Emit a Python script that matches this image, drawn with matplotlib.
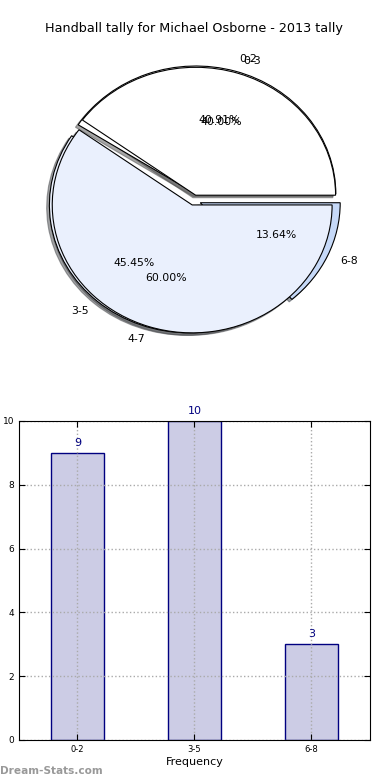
import matplotlib
matplotlib.use('Agg')
from matplotlib import pyplot as plt

# tally data
title = 'Handball tally for Michael Osborne - 2013 tally'
bins_a = ['0-2', '3-5', '6-8']
counts_a = [9, 10, 3]
bins_b = ['0-3', '4-7']
share_b = [40.0, 60.0]

colors_a = ['white', '#eaf0fd', '#c6d9f8']
colors_b = ['white', '#eaf0fd']

fig = plt.figure(figsize=(3.9, 7.8), dpi=100)

# --- pie part (two pies drawn on top of each other) ---
ax = fig.add_axes([0.0487, 0.5385, 0.897, 0.410])
wp = {'edgecolor': 'black', 'linewidth': 0.8}
tp = {'fontsize': 7.8}
shadow = {'ox': -0.014, 'oy': -0.014}
ax.pie(counts_a, labels=bins_a, explode=[0.05] * len(counts_a), colors=colors_a,
       autopct='%1.2f%%', shadow=shadow, wedgeprops=wp, textprops=tp)
ax.pie(share_b, labels=bins_b, explode=[0.04] * len(share_b), colors=colors_b,
       autopct='%1.2f%%', shadow=shadow, wedgeprops=wp, textprops=tp)
ax.set_aspect('auto')
ax.set_xlim(-1.25, 1.25)
ax.set_ylim(-1.25, 1.25)
ax.set_title(title, fontsize=9.2)

# --- bar part ---
ax2 = fig.add_axes([0.0487, 0.0513, 0.9, 0.409])
x = list(range(len(bins_a)))
ax2.bar(x, counts_a, width=0.45, facecolor=(0, 0, 0.5, 0.2), edgecolor='navy', linewidth=1)
for i, v in zip(x, counts_a):
    ax2.text(i, v + 0.15, str(v), ha='center', va='bottom', color='navy', fontsize=8)

ax2.set_xlim(-0.5, 2.5)
ax2.set_ylim(0, 10)
ax2.set_xticks(x)
ax2.set_xticklabels(bins_a)
ax2.set_yticks([0, 2, 4, 6, 8, 10])
ax2.tick_params(direction='in', top=True, right=True, labelsize=6, length=4)
ax2.tick_params(axis='y', labelsize=6.5)
ax2.grid(True, linestyle=':', color='#aaaaaa', linewidth=1)
ax2.set_xlabel('Frequency', fontsize=8, labelpad=2)
ax2.set_ylabel('Total Tallies', fontsize=8)
ax2.yaxis.set_label_coords(-0.046, 0.5)

fig.text(0.0, 0.008, 'Dream-Stats.com', color='#999999', fontsize=7.6, fontweight='bold')

plt.savefig('out.png', dpi=100)
